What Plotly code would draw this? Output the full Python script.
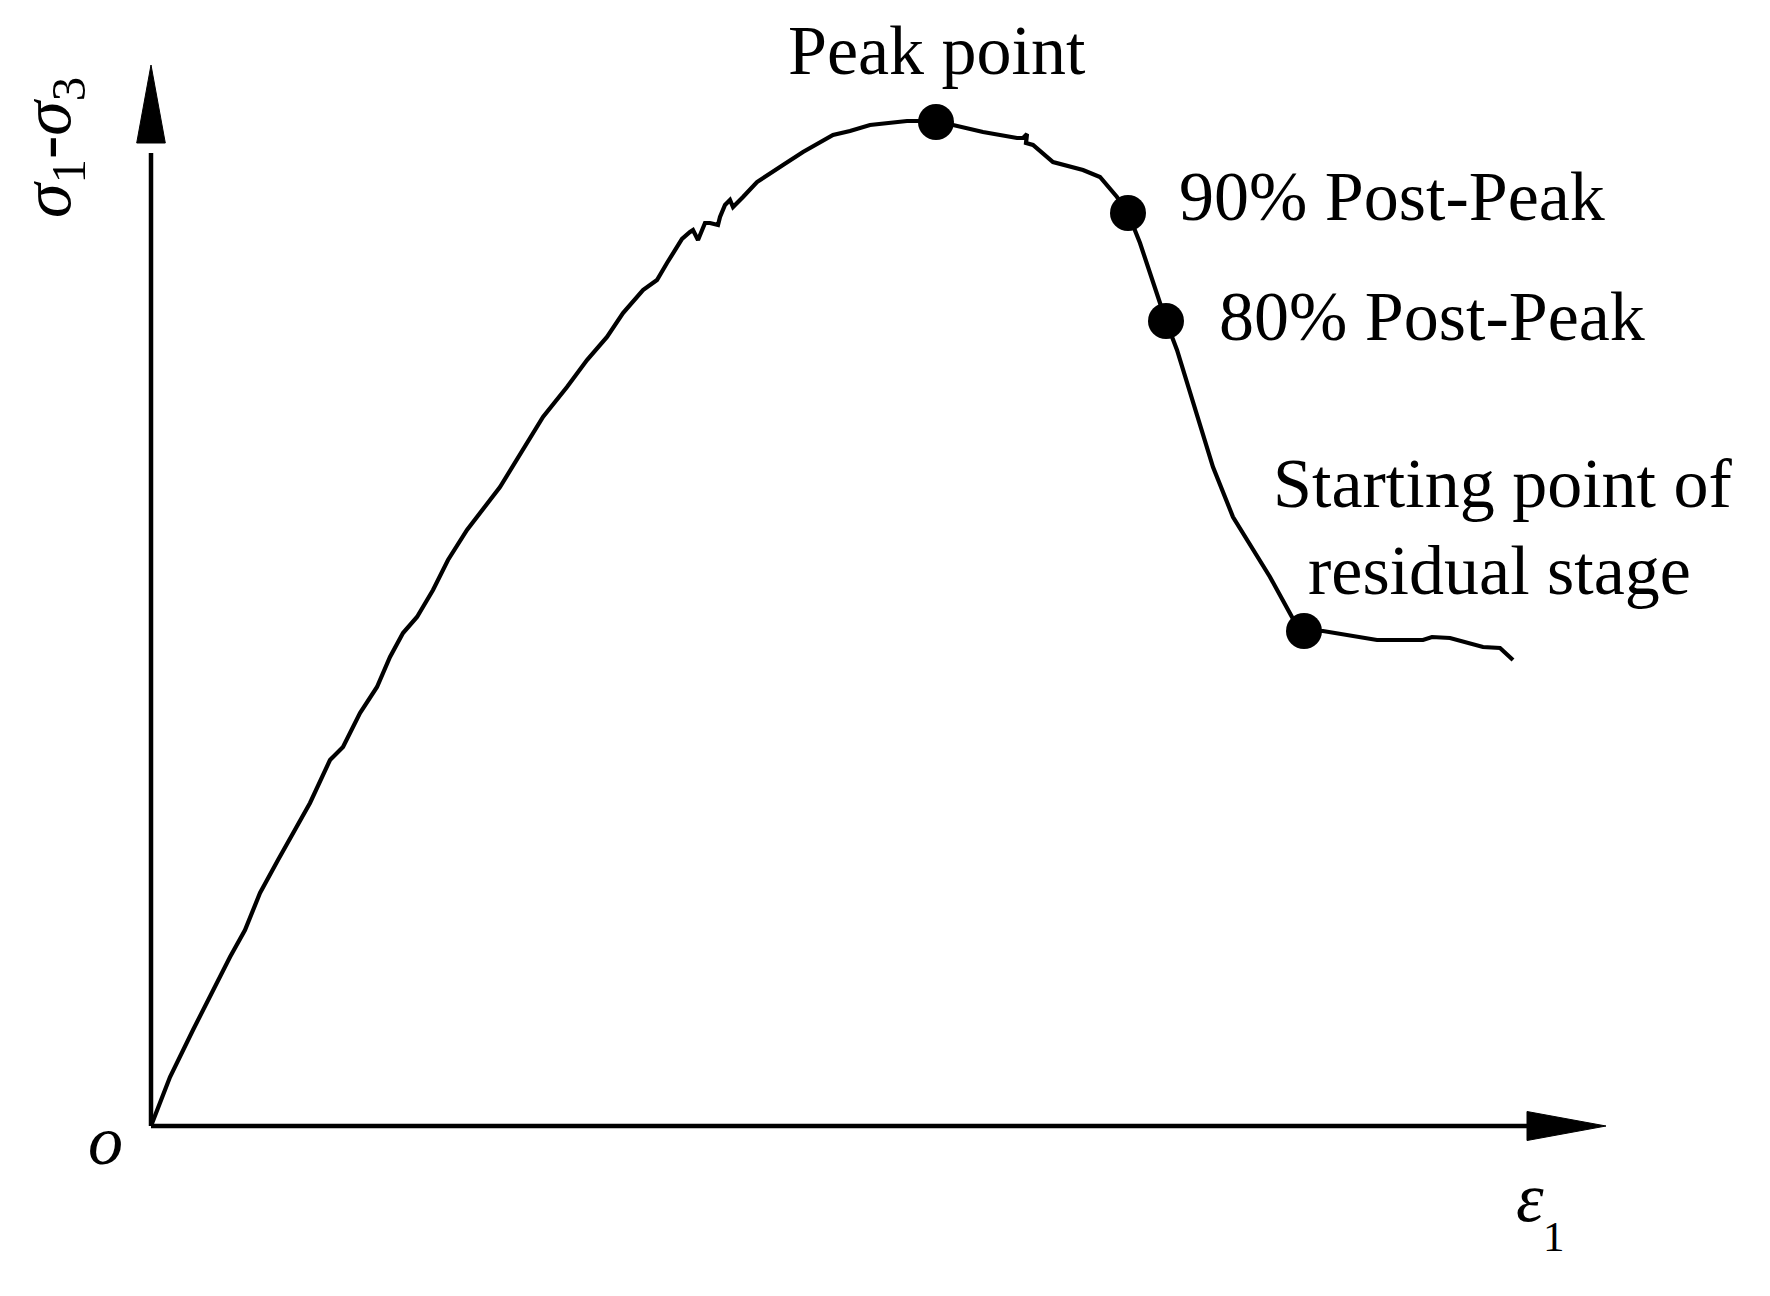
import plotly.graph_objects as go

# ---- data (relative units) ----
strain = [0, 1.9, 4.2, 6.2, 7.9, 9.4, 10.9, 12.7, 14.2, 15.9, 17.9, 19.2, 20.9, 22.6, 23.9,
          25.2, 26.6, 28.2, 29.7, 31.6, 34.9, 36.6, 39.2, 41.6, 43.6, 45.6, 47.2, 49.2, 50.6,
          51.6, 52.9, 53.1, 53.9, 54.2, 54.7, 55.4, 55.9, 56.7, 56.9, 57.4, 57.9, 58.2, 59.2,
          60.6, 63.2, 65.2, 68.2, 69.9, 71.9, 75.6, 78.5, 83.2, 86.6, 87.2, 87.6, 87.5, 88.2,
          90.2, 93.2, 94.9, 96.6, 97.7, 98.9, 99.9, 101.5, 102.6, 104.2, 106.2, 108.2, 109.9,
          111.9, 114.1, 115.3, 117.2, 119.9, 122.6, 127.2, 128.1, 129.9, 131.6, 133.2, 134.9,
          136.2]
stress = [0, 4.9, 9.6, 13.6, 16.9, 19.6, 23.3, 26.6, 29.3, 32.3, 36.6, 37.9, 41.3, 43.9, 46.9,
          49.3, 50.9, 53.6, 56.6, 59.6, 63.9, 66.6, 70.9, 73.9, 76.6, 78.9, 81.3, 83.6, 84.6,
          86.3, 88.3, 88.7, 89.4, 89.6, 88.6, 90.3, 90.3, 90.1, 90.9, 92.1, 92.6, 91.9, 92.9,
          94.4, 96.1, 97.4, 99.1, 99.5, 100.1, 100.5, 100.5, 99.4, 98.8, 98.8, 99.2, 98.3, 98.1,
          96.4, 95.6, 94.9, 92.9, 91.3, 88.3, 85.3, 80.5, 77.6, 72.3, 65.9, 60.9, 58.1,
          54.9, 50.9, 49.5, 49.5, 49.1, 48.6, 48.6, 48.9, 48.8, 48.3, 47.9, 47.8,
          46.6]

key_strain = [78.5, 97.7, 101.5, 115.3]
key_stress = [100.4, 91.3, 80.5, 49.5]
key_labels = ["Peak point", "90% Post-Peak", "80% Post-Peak", "Starting point of", "residual stage"]

# ---- layout constants (page body has an 8 px margin) ----
W, H = 1762, 1288
X_RANGE = [-14.3, 161.9]
Y_RANGE = [-17.0, 111.8]
X_TIP, X_BASE, X_HALF = 145.5, 137.6, 1.45
Y_TIP, Y_BASE, Y_HALF = 106.1, 98.3, 1.43
FONT = "Liberation Serif, Times New Roman, serif"
FS = 70

fig = go.Figure()
fig.add_trace(go.Scatter(x=strain, y=stress, mode="lines",
                         line=dict(color="black", width=4.2), hoverinfo="skip"))
fig.add_trace(go.Scatter(x=key_strain, y=key_stress, mode="markers",
                         marker=dict(size=36, color="black"), hoverinfo="skip"))

shapes = [
    dict(type="line", x0=0, y0=0, x1=X_BASE + 1, y1=0, line=dict(color="black", width=4.5)),
    dict(type="line", x0=0, y0=0, x1=0, y1=Y_BASE - 1, line=dict(color="black", width=4.5)),
    dict(type="path", path=f"M {X_BASE},{X_HALF} L {X_TIP},0 L {X_BASE},{-X_HALF} Z",
         fillcolor="black", line=dict(color="black", width=1)),
    dict(type="path", path=f"M {-Y_HALF},{Y_BASE} L 0,{Y_TIP} L {Y_HALF},{Y_BASE} Z",
         fillcolor="black", line=dict(color="black", width=1)),
]

def ann(text, x, y, size=FS, xanchor="center", yanchor="middle", angle=0):
    return dict(text=text, x=x, y=y, xref="x", yref="y", showarrow=False,
                xanchor=xanchor, yanchor=yanchor, textangle=angle,
                font=dict(family=FONT, size=size, color="black"))

annotations = [
    ann(key_labels[0], 78.6, 107.6),
    ann(key_labels[1], 102.6, 93.0, xanchor="left"),
    ann(key_labels[2], 106.6, 81.0, xanchor="left"),
    ann(key_labels[3], 135.2, 64.3),
    ann(key_labels[4], 134.85, 55.6),
    ann("<i>o</i>", -4.6, -1.4),
    ann("<i>ε</i>", 137.9, -7.1),
    ann("1", 140.25, -11.05, size=43),
    ann("<i>σ</i><sub>1</sub>-<i>σ</i><sub>3</sub>", -9.9, 97.8, angle=-90),
]

fig.update_layout(
    width=W, height=H, margin=dict(l=0, r=0, t=0, b=0),
    paper_bgcolor="white", plot_bgcolor="white", showlegend=False,
    xaxis=dict(range=X_RANGE, visible=False, fixedrange=True),
    yaxis=dict(range=Y_RANGE, visible=False, fixedrange=True),
    shapes=shapes, annotations=annotations,
)

fig.write_html("out.html")
